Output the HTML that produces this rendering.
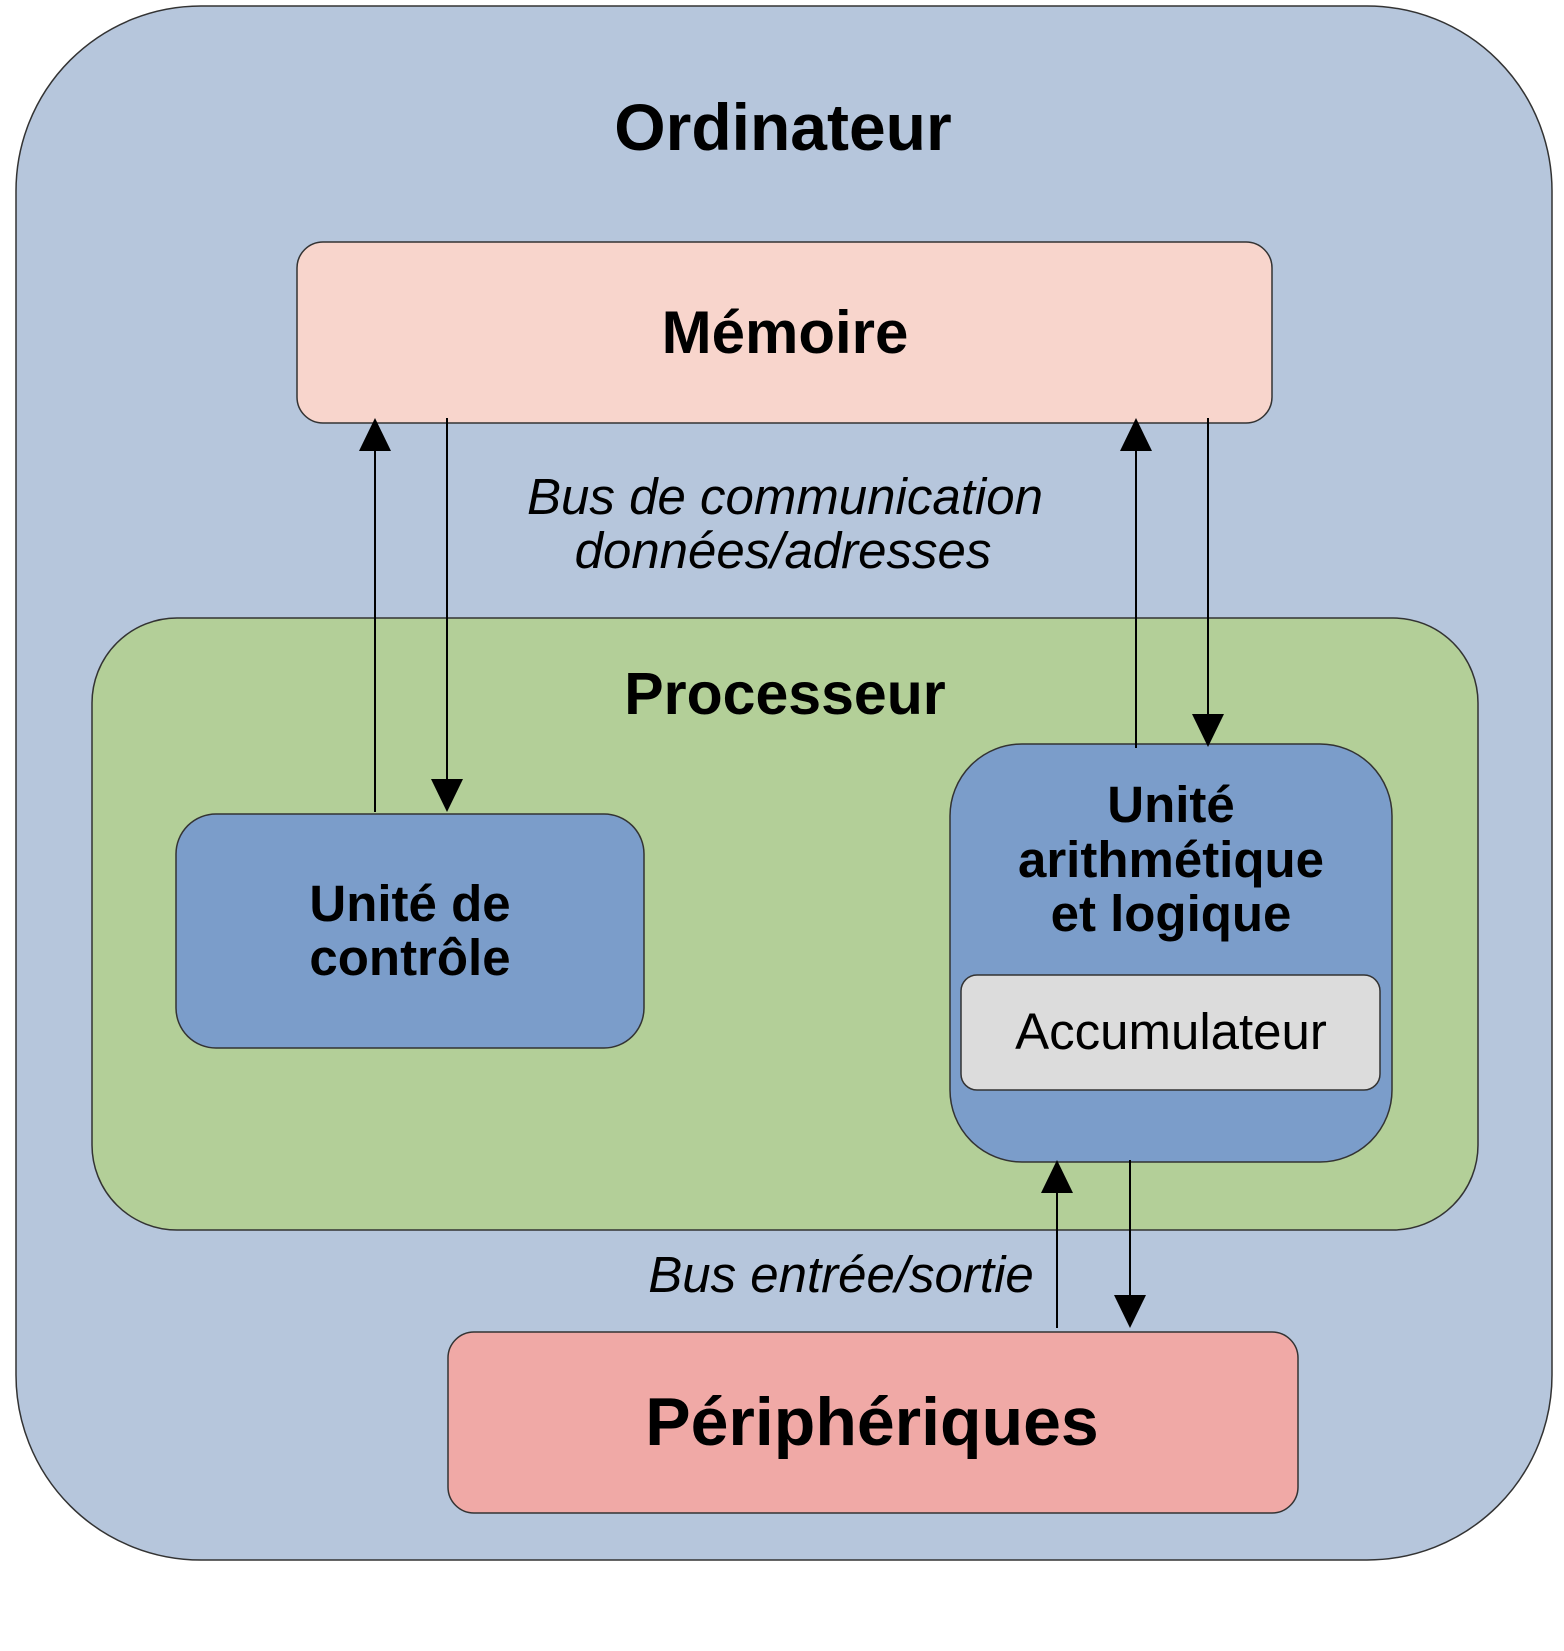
<!DOCTYPE html>
<html><head><meta charset="utf-8"><style>html,body{margin:0;padding:0;background:#fff}</style></head>
<body>
<svg width="1564" height="1646" viewBox="0 0 1564 1646" xmlns="http://www.w3.org/2000/svg" font-family="Liberation Sans, sans-serif">
<rect x="16" y="6" width="1536" height="1554" rx="185" fill="#b6c6dc" stroke="#333" stroke-width="1.5"/>
<text x="783" y="150" font-size="66" font-weight="bold" text-anchor="middle">Ordinateur</text>
<rect x="297" y="242" width="975" height="181" rx="26" fill="#f8d5cc" stroke="#333" stroke-width="1.5"/>
<text x="785" y="353" font-size="60" font-weight="bold" text-anchor="middle">Mémoire</text>
<text x="785" y="514" font-size="51" font-style="italic" text-anchor="middle">Bus de communication</text>
<text x="783" y="568" font-size="51" font-style="italic" text-anchor="middle">données/adresses</text>
<rect x="92" y="618" width="1386" height="612" rx="85" fill="#b3cf98" stroke="#333" stroke-width="1.5"/>
<text x="785" y="714" font-size="59" font-weight="bold" text-anchor="middle">Processeur</text>
<rect x="176" y="814" width="468" height="234" rx="40" fill="#7b9dca" stroke="#333" stroke-width="1.5"/>
<text x="410" y="921" font-size="51" font-weight="bold" text-anchor="middle">Unité de</text>
<text x="410" y="975" font-size="51" font-weight="bold" text-anchor="middle">contrôle</text>
<rect x="950" y="744" width="442" height="418" rx="72" fill="#7b9dca" stroke="#333" stroke-width="1.5"/>
<text x="1171" y="822" font-size="51" font-weight="bold" text-anchor="middle">Unité</text>
<text x="1171" y="877" font-size="51" font-weight="bold" text-anchor="middle">arithmétique</text>
<text x="1171" y="931" font-size="51" font-weight="bold" text-anchor="middle">et logique</text>
<rect x="961" y="975" width="419" height="115" rx="16" fill="#dcdcdc" stroke="#333" stroke-width="1.5"/>
<text x="1171" y="1049" font-size="51" text-anchor="middle">Accumulateur</text>
<text x="841" y="1292" font-size="51" font-style="italic" text-anchor="middle">Bus entrée/sortie</text>
<rect x="448" y="1332" width="850" height="181" rx="26" fill="#f0a9a6" stroke="#333" stroke-width="1.5"/>
<text x="872" y="1445" font-size="68" font-weight="bold" text-anchor="middle">Périphériques</text>
<g stroke="#000" stroke-width="2">
<line x1="375" y1="812" x2="375" y2="448"/>
<line x1="447" y1="418" x2="447" y2="782"/>
<line x1="1136" y1="748" x2="1136" y2="448"/>
<line x1="1208" y1="418" x2="1208" y2="716"/>
<line x1="1057" y1="1328" x2="1057" y2="1192"/>
<line x1="1130" y1="1160" x2="1130" y2="1298"/>
</g>
<g fill="#000">
<polygon points="375,418 359,451 391,451"/>
<polygon points="447,812 431,779 463,779"/>
<polygon points="1136,418 1120,451 1152,451"/>
<polygon points="1208,747 1192,714 1224,714"/>
<polygon points="1057,1160 1041,1193 1073,1193"/>
<polygon points="1130,1328 1114,1295 1146,1295"/>
</g>
</svg>
</body></html>
